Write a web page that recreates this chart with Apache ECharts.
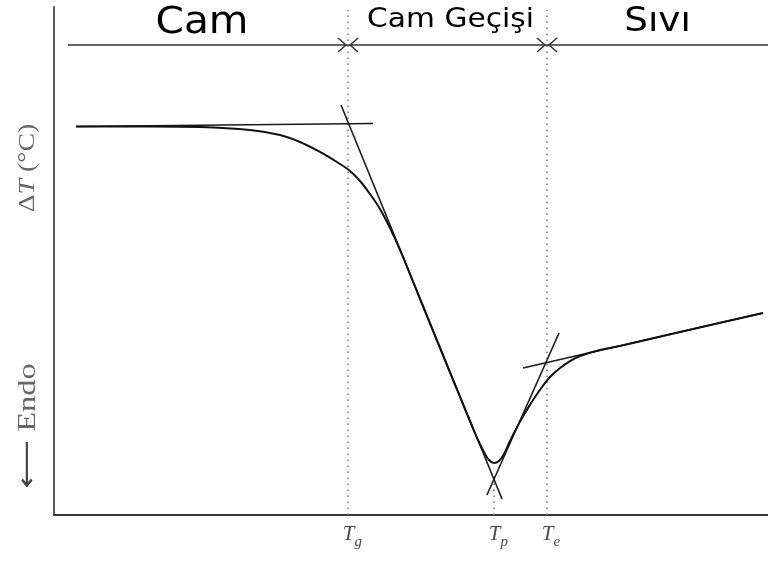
<!DOCTYPE html>
<html>
<head>
<meta charset="utf-8">
<script src="https://cdn.jsdelivr.net/npm/echarts@6/dist/echarts.min.js"></script>
<style>
  html, body { margin: 0; padding: 0; background: #fff; }
  #chart { width: 768px; height: 568px; }
</style>
</head>
<body>
<div id="chart"></div>
<script>
// DTA / DSC trace through the glass transition (arbitrary units, 0–100 on both axes)
const curveTemp  = [3.08, 13.45, 20.45, 27.45, 31.65, 34.45, 37.25, 40.06, 41.46, 42.86, 44.26, 45.66, 47.06, 48.46, 51.26, 54.06, 56.86, 58.54, 59.38, 60.22, 60.92, 61.62, 62.32, 63.03, 63.87, 64.71, 65.55, 66.39, 67.09, 68.35, 69.47, 70.87, 72.27, 73.67, 76.47, 79.27, 87.68, 99.30];
const curveDelta = [76.48, 76.48, 76.38, 75.79, 74.80, 73.43, 71.46, 69.09, 67.72, 65.75, 63.19, 60.24, 56.50, 52.17, 42.52, 32.87, 23.23, 17.52, 14.76, 12.40, 10.83, 10.24, 10.63, 12.01, 14.57, 16.93, 19.09, 21.06, 22.64, 25.20, 27.17, 28.94, 30.31, 31.30, 32.48, 33.27, 36.02, 39.76];

// construction (tangent) lines, each as [start, end]
const glassBaseline   = [[3.08, 76.48], [44.68, 77.07]];
const fallingTangent  = [[40.20, 80.71], [62.75, 3.15]];
const risingTangent   = [[60.64, 3.94], [70.73, 35.83]];
const liquidBaseline  = [[65.69, 28.94], [99.30, 39.76]];

// characteristic temperatures: T_g, T_p, T_e
const markSubs  = ['g', 'p', 'e'];
const markTemps = [41.18, 61.62, 69.05];
const markTops  = [99.4, 6.5, 99.4];

// regions marked along the top
const regionNames = ['Cam', 'Cam Geçişi', 'Sıvı'];
const regionStart = [1.96, 41.18, 69.05];
const regionEnd   = [41.18, 69.05, 100];
const regionLevel = 92.52;

// text styling for the region labels
const regionFont  = [37, 27, 34];
const regionLift  = [22, 25, 23];
const regionNudge = [-6, 3, 0];

const chart = echarts.init(document.getElementById('chart'));

const zip = (xs, ys) => xs.map((x, i) => [x, ys[i]]);

function straight(name, pts) {
  return {
    name, type: 'line', data: pts, symbol: 'none', silent: true,
    lineStyle: { color: '#1a1a1a', width: 1.6 }, z: 3
  };
}

const option = {
  animation: false,
  backgroundColor: '#fff',
  grid: { left: 54, right: 0, top: 7, bottom: 53, containLabel: false },
  xAxis: {
    type: 'value', min: 0, max: 100,
    axisLine: { show: true, lineStyle: { color: '#3a3a3a', width: 2 } },
    axisTick: { show: false }, axisLabel: { show: false }, splitLine: { show: false }
  },
  yAxis: {
    type: 'value', min: 0, max: 100,
    axisLine: { show: true, lineStyle: { color: '#5a5a5a', width: 2 } },
    axisTick: { show: false }, axisLabel: { show: false }, splitLine: { show: false }
  },
  graphic: [
    {
      type: 'text', x: 28, y: 168, rotation: Math.PI / 2, scaleX: 1.16,
      style: {
        text: '{n|Δ}{i|T}{n| (°C)}',
        align: 'center', verticalAlign: 'middle',
        rich: {
          n: { fontFamily: 'Liberation Serif', fontSize: 24, fill: '#666' },
          i: { fontFamily: 'Liberation Serif', fontStyle: 'italic', fontSize: 24, fill: '#666' }
        }
      }
    },
    {
      type: 'text', x: 28, y: 426, rotation: Math.PI / 2, scaleX: 1.3,
      style: {
        text: '{a|⟵}  {n|Endo}',
        align: 'center', verticalAlign: 'middle',
        rich: {
          a: { fontFamily: 'DejaVu Sans', fontSize: 26, fill: '#444' },
          n: { fontFamily: 'Liberation Serif', fontSize: 25, fill: '#666' }
        }
      }
    }
  ],
  series: [
    {
      name: 'ΔT', type: 'line', data: zip(curveTemp, curveDelta),
      smooth: 0.35, symbol: 'none', silent: true,
      lineStyle: { color: '#111', width: 2 }, z: 4
    },
    straight('glass baseline', glassBaseline),
    straight('falling tangent', fallingTangent),
    straight('rising tangent', risingTangent),
    straight('liquid baseline', liquidBaseline),
    {
      name: 'marks', type: 'custom', silent: true, z: 2,
      data: markTemps.map((t, i) => [t, markTops[i], i]),
      renderItem(params, api) {
        const i = api.value(2);
        const p0 = api.coord([api.value(0), 0]);
        const p1 = api.coord([api.value(0), api.value(1)]);
        return {
          type: 'group',
          children: [
            {
              type: 'line',
              shape: { x1: p0[0], y1: p0[1], x2: p1[0], y2: p1[1] },
              style: { stroke: '#777', lineWidth: 1.5, lineDash: [1.5, 4.5] }
            },
            {
              type: 'text', x: p0[0] + 6.5, y: p0[1] + 19,
              style: {
                text: 'T', fontFamily: 'Liberation Serif', fontStyle: 'italic',
                fontSize: 21, fill: '#4a4a4a', align: 'right', verticalAlign: 'middle'
              }
            },
            {
              type: 'text', x: p0[0] + 6.5, y: p0[1] + 27,
              style: {
                text: markSubs[i], fontFamily: 'Liberation Serif', fontStyle: 'italic',
                fontSize: 15, fill: '#4a4a4a', align: 'left', verticalAlign: 'middle'
              }
            }
          ]
        };
      }
    },
    {
      name: 'regions', type: 'custom', silent: true, z: 3,
      data: regionNames.map((n, i) => [regionStart[i], regionEnd[i], regionLevel, i]),
      renderItem(params, api) {
        const i = api.value(3);
        const last = regionNames.length - 1;
        const a = api.coord([api.value(0), api.value(2)]);
        const b = api.coord([api.value(1), api.value(2)]);
        const y = a[1];
        const stroke = { stroke: '#333', lineWidth: 1.5, fill: null };
        const kids = [
          { type: 'line', shape: { x1: a[0], y1: y, x2: b[0], y2: y }, style: stroke }
        ];
        if (i < last) {
          const tip = b[0] - 2;
          kids.push({ type: 'polyline', shape: { points: [[tip - 8, y - 7], [tip, y], [tip - 8, y + 7]] }, style: stroke });
        }
        if (i > 0) {
          const tip = a[0] + 2;
          kids.push({ type: 'polyline', shape: { points: [[tip + 8, y - 7], [tip, y], [tip + 8, y + 7]] }, style: stroke });
        }
        kids.push({
          type: 'text', x: (a[0] + b[0]) / 2 + regionNudge[i], y: y - regionLift[i], scaleX: 1.1,
          style: {
            text: regionNames[i], fontFamily: 'DejaVu Sans', fontSize: regionFont[i],
            fill: '#000', align: 'center', verticalAlign: 'middle'
          }
        });
        return { type: 'group', children: kids };
      }
    }
  ]
};

chart.setOption(option);
</script>
</body>
</html>
